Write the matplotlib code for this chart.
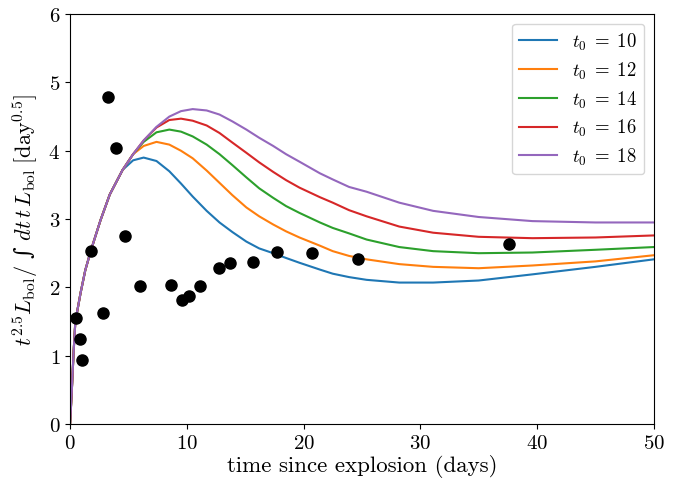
import numpy as np
import matplotlib
matplotlib.use('Agg')
import matplotlib.pyplot as plt

plt.rcParams['font.family'] = 'cmr10'
plt.rcParams['mathtext.fontset'] = 'cm'
plt.rcParams['axes.formatter.use_mathtext'] = True

# observed points (days, value)
obs_t = [0.47, 0.87, 1.04, 1.8, 2.8, 3.24, 3.9, 4.73, 5.95, 8.66, 9.6, 10.17,
         11.17, 12.74, 13.7, 15.7, 17.7, 20.7, 24.7, 37.6]
obs_y = [1.55, 1.25, 0.93, 2.53, 1.62, 4.78, 4.04, 2.75, 2.02, 2.03, 1.81, 1.88,
         2.02, 2.29, 2.35, 2.37, 2.52, 2.51, 2.41, 2.63]

# model curves, common time grid
t_grid = [0, 0.15, 0.3, 0.45, 0.9, 1.3, 1.8, 2.6, 3.4, 4.5, 5.4, 6.3, 7.4, 8.5,
          9.5, 10.5, 11.7, 12.8, 13.9, 15.1, 16.2, 17.4, 18.5, 19.65, 21.4, 22.5,
          23.9, 25.4, 28.2, 31.1, 35, 39.6, 45, 50]
rise = [0, 0.5, 1.05, 1.5, 1.92, 2.25, 2.55, 2.98, 3.36, 3.72]

t0_vals = [10, 12, 14, 16, 18]
curve_10 = rise + [3.86, 3.90, 3.85, 3.70, 3.52, 3.33, 3.12, 2.95, 2.81, 2.67,
                   2.57, 2.50, 2.43, 2.36, 2.26, 2.20, 2.15, 2.11, 2.07, 2.07,
                   2.10, 2.19, 2.30, 2.41]
curve_12 = rise + [3.95, 4.07, 4.13, 4.09, 4.00, 3.89, 3.71, 3.53, 3.35, 3.17,
                   3.04, 2.92, 2.82, 2.73, 2.61, 2.53, 2.46, 2.41, 2.34, 2.30,
                   2.28, 2.32, 2.38, 2.47]
curve_14 = rise + [3.95, 4.13, 4.27, 4.31, 4.28, 4.21, 4.09, 3.95, 3.79, 3.61,
                   3.45, 3.31, 3.19, 3.09, 2.95, 2.87, 2.79, 2.70, 2.59, 2.53,
                   2.50, 2.51, 2.55, 2.59]
curve_16 = rise + [3.95, 4.15, 4.34, 4.45, 4.47, 4.44, 4.37, 4.26, 4.12, 3.97,
                   3.83, 3.69, 3.57, 3.46, 3.32, 3.24, 3.13, 3.04, 2.89, 2.80,
                   2.74, 2.72, 2.73, 2.76]
curve_18 = rise + [3.95, 4.15, 4.35, 4.50, 4.58, 4.61, 4.59, 4.53, 4.43, 4.31,
                   4.19, 4.07, 3.95, 3.84, 3.67, 3.58, 3.47, 3.40, 3.24, 3.12,
                   3.03, 2.97, 2.95, 2.95]
curves = [curve_10, curve_12, curve_14, curve_16, curve_18]

fig = plt.figure(figsize=(6.94, 4.89), dpi=100)
ax = fig.add_axes([0.101, 0.131, 0.841, 0.838])

for t0, c in zip(t0_vals, curves):
    ax.plot(t_grid, c, lw=1.5, label=r'$t_0\;=\;%d$' % t0)

ax.plot(obs_t, obs_y, 'o', color='black', ms=8)

ax.set_xlim(0, 50)
ax.set_ylim(0, 6)
ax.set_xticks([0, 10, 20, 30, 40, 50])
ax.set_yticks([0, 1, 2, 3, 4, 5, 6])
ax.tick_params(labelsize=15)
ax.set_xlabel('time since explosion (days)', fontsize=16.5, labelpad=2)
# integral sign in DejaVu Serif (cmr10 has no usable glyph), rest in CM mathtext
ylab = ('$t^{2.5}L_{\\mathrm{bol}}/$ \u222b '
        '$dt\\,t\\,L_{\\mathrm{bol}}\\;[\\mathrm{day}^{0.5}]$')
ax.set_ylabel(ylab, fontsize=16, labelpad=6, family='DejaVu Serif')
ax.legend(loc='upper right', fontsize=13.5, labelspacing=0.4)

fig.savefig('out.png', dpi=100)
